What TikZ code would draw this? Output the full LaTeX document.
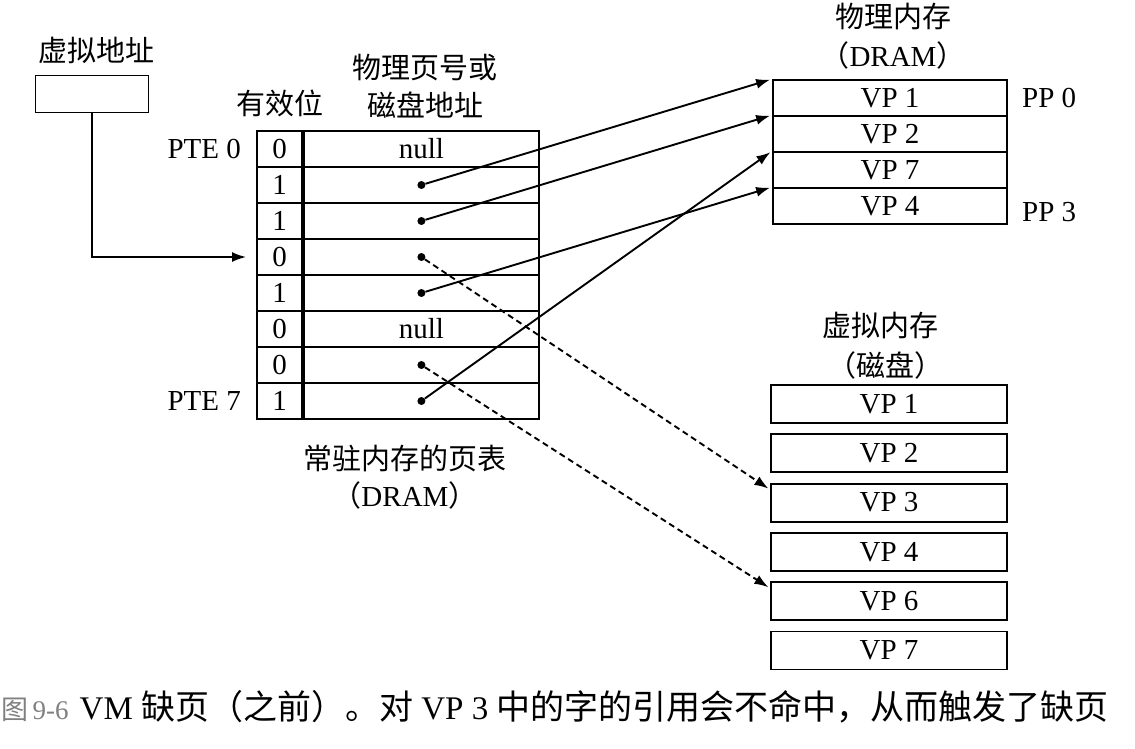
\documentclass[tikz,border=0pt]{standalone}
\usepackage{fontspec}
\setmainfont{Liberation Serif}
\newfontfamily\cjk{Noto Sans CJK SC}
\usetikzlibrary{positioning,arrows.meta}

\tikzset{
  cell/.style={draw, line width=1.9pt, inner sep=0pt, minimum height=36pt,
    font=\fontsize{29}{34}\selectfont},
  bitcell/.style={cell, minimum width=45pt},
  addrcell/.style={cell, minimum width=235pt},
  dramcell/.style={cell, minimum width=234pt},
  diskcell/.style={cell, minimum width=236pt, minimum height=38pt},
  lbl/.style={inner sep=0pt, font=\fontsize{29}{34}\selectfont},
  ptr/.style={-{Latex[length=14pt,width=10pt]}, line width=1.9pt},
  fault/.style={ptr, dash pattern=on 6pt off 4pt},
  pdot/.style={circle, fill, inner sep=0pt, minimum size=8pt},
}

\begin{document}
\begin{tikzpicture}[x=1pt,y=-1pt]
  \useasboundingbox (0,0) rectangle (1135,748);
  % virtual address
  \node[lbl] (valbl) at (96,50) {\cjk 虚拟地址};
  \node[cell, minimum width=113pt, minimum height=37pt] (va) at (92,94) {};
  % page table
  \foreach \b [count=\i from 0] in {0,1,1,0,1,0,0,1} {
    \node[bitcell] (v\i) at (279.5,{149+36*\i}) {\b};
    \node[addrcell, right=0pt of v\i] (a\i) {};
  }
  \node[lbl] at (a0) {null};
  \node[lbl] at (a5) {null};
  \foreach \i in {1,2,3,4,6,7}
    \node[pdot] (d\i) at (a\i) {};
  \node[lbl, left=15pt of v0] (pte0) {PTE 0};
  \node[lbl, left=15pt of v7] (pte7) {PTE 7};
  \node[lbl] (validlbl) at (280,103) {\cjk 有效位};
  \node[lbl] (ppnlbl) at (425,68) {\cjk 物理页号或};
  \node[lbl] (disklbl) at (425,105) {\cjk 磁盘地址};
  \node[lbl] (ptlbl) at (405,458) {\cjk 常驻内存的页表};
  \node[lbl] (ptdram) at (405,495) {{\cjk （}DRAM{\cjk ）}};
  % physical memory
  \node[lbl] (pmlbl) at (893,17) {\cjk 物理内存};
  \node[lbl] (pmdram) at (893,55) {{\cjk （}DRAM{\cjk ）}};
  \foreach \p [count=\j from 0] in {1,2,7,4}
    \node[dramcell] (pp\j) at (890,{98+36*\j}) {VP \p};
  \node[lbl, anchor=west] (pp0lbl) at (1022,98) {PP 0};
  \node[lbl, anchor=west] (pp3lbl) at (1022,212) {PP 3};
  % virtual memory on disk
  \node[lbl] (vmlbl) at (880,325) {\cjk 虚拟内存};
  \node[lbl] (vmdisk) at (885,365) {\cjk （磁盘）};
  \foreach \p [count=\k from 0] in {1,2,3,4,6,7}
    \node[diskcell] (vp\p) at (889,{404+49.3*\k}) {VP \p};
  % arrows
  \draw[ptr] (va.south) |- ([xshift=-10pt]v3.west);
  \draw[ptr, shorten >=2pt] (d1) -- (pp0.north west);
  \draw[ptr, shorten >=2pt] (d2) -- (pp1.north west);
  \draw[ptr, shorten >=2pt] (d4) -- (pp3.north west);
  \draw[ptr, shorten >=2pt] (d7) -- (pp2.north west);
  \draw[fault, shorten >=2pt] (d3) -- ([yshift=-7pt]vp3.north west);
  \draw[fault, shorten >=2pt] (d6) -- ([yshift=-7pt]vp6.north west);
  % caption
  \node[anchor=west, inner sep=0pt, font=\fontsize{33}{38}\selectfont] (caption) at (1,707)
    {{\color{gray}\fontsize{27}{30}\selectfont{\cjk 图}\,9-6}\hspace{11pt}VM
     {\fontsize{34}{38}\selectfont\cjk 缺页（之前）。对} VP 3
     {\fontsize{34}{38}\selectfont\cjk 中的字的引用会不命中，从而触发了缺页}};
\end{tikzpicture}
\end{document}
